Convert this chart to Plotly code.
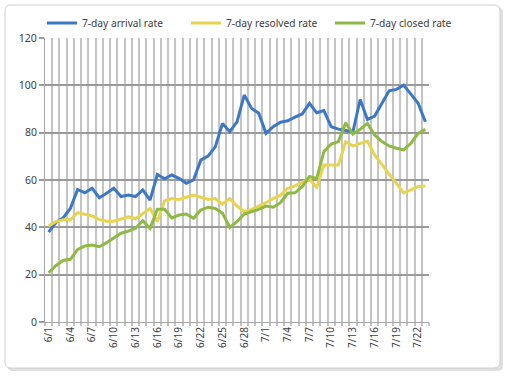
import plotly.graph_objects as go

tick_labels = ["6/1", "6/4", "6/7", "6/10", "6/13", "6/16", "6/19", "6/22", "6/25",
               "6/28", "7/1", "7/4", "7/7", "7/10", "7/13", "7/16", "7/19", "7/22"]
tick_index = [0, 3, 6, 9, 12, 15, 18, 21, 24, 27, 30, 33, 36, 39, 42, 45, 48, 51]

arrival = [38, 42, 44, 48, 56, 54.6, 56.5, 52.5, 54.4, 56.5, 53, 53.6, 53, 55.8, 51.5,
           62.3, 60.5, 62.1, 60.7, 58.6, 60, 68.4, 70.1, 74, 83.9, 80.4, 84.6, 95.9,
           90.3, 88.2, 79.7, 82.5, 84.4, 85, 86.6, 87.9, 92.4, 88.4, 89.3, 82.5, 81.5,
           81.1, 80.4, 94, 85.6, 87, 92.4, 97.7, 98.3, 100.1, 96.3, 92.4, 84.6]
resolved = [40.6, 42.4, 43.2, 43.2, 46.2, 45.4, 44.8, 43.3, 42.6, 42.6, 43.6, 44.4,
            43.6, 45.9, 48, 42.4, 51.2, 52.2, 51.8, 52.7, 53.6, 52.7, 51.8, 52.2, 49.8,
            52.2, 49, 46.6, 47.6, 49, 50.4, 52.2, 53.6, 56.5, 57.5, 59, 60.3, 56.9,
            66.3, 66.3, 66.3, 76.2, 74.4, 75.5, 76.4, 70.6, 66.3, 62.5, 58.6, 54.5,
            55.8, 57.3, 57.5]
closed = [20.8, 23.8, 26, 26.5, 30.7, 32.1, 32.5, 31.8, 33.5, 35.4, 37.5, 38.4, 39.6,
          42.8, 39.5, 47.6, 47.6, 44, 45.2, 45.6, 43.8, 47.3, 48.5, 48, 45.9, 40, 42.4,
          45.6, 46.6, 47.6, 49, 48.5, 50.4, 54.4, 54.6, 57.2, 61.5, 60.7, 72, 75.2,
          76.2, 84.2, 79.4, 81.4, 83.9, 79, 76.2, 74.4, 73.4, 72.7, 75.5, 79.7, 81.4]

days = list(range(len(arrival)))

W, H = 509, 377
L, R, T, B = 45, 429, 38, 322  # plot area in px


def px_x(p):
    return (p - L) / (R - L)


def px_y(p):
    return (B - p) / (B - T)


def rounded_rect(x0, y0, x1, y1, r):
    rx = r / (R - L)
    ry = r / (B - T)
    X0, X1 = px_x(x0), px_x(x1)
    Y0, Y1 = px_y(y0), px_y(y1)  # Y0 top, Y1 bottom
    return (f"M {X0 + rx},{Y0} L {X1 - rx},{Y0} Q {X1},{Y0} {X1},{Y0 - ry} "
            f"L {X1},{Y1 + ry} Q {X1},{Y1} {X1 - rx},{Y1} "
            f"L {X0 + rx},{Y1} Q {X0},{Y1} {X0},{Y1 + ry} "
            f"L {X0},{Y0 - ry} Q {X0},{Y0} {X0 + rx},{Y0} Z")


font_family = "Noto Sans, Open Sans, DejaVu Sans, sans-serif"

fig = go.Figure()
fig.add_trace(go.Scatter(x=days, y=arrival, mode="lines", name="7-day arrival rate",
                         line=dict(color="#3c78c5", width=3)))
fig.add_trace(go.Scatter(x=days, y=resolved, mode="lines", name="7-day resolved rate",
                         line=dict(color="#e8d44e", width=3)))
fig.add_trace(go.Scatter(x=days, y=closed, mode="lines", name="7-day closed rate",
                         line=dict(color="#8dba43", width=3)))

shapes = [
    dict(type="path", xref="paper", yref="paper", layer="below",
         path=rounded_rect(7, 7, 503, 371, 6),
         fillcolor="rgba(0,0,0,0.12)", line=dict(width=0)),
    dict(type="path", xref="paper", yref="paper", layer="below",
         path=rounded_rect(5, 5, 500, 368, 6),
         fillcolor="white", line=dict(color="#d0d0d0", width=1)),
]

fig.update_layout(
    width=W, height=H,
    margin=dict(l=L, r=W - R, t=T, b=H - B, autoexpand=False),
    paper_bgcolor="white",
    plot_bgcolor="rgba(0,0,0,0)",
    font=dict(family=font_family, size=10, color="#404040"),
    shapes=shapes,
    showlegend=True,
    legend=dict(orientation="h", x=px_x(42), y=px_y(23), xanchor="left", yanchor="middle",
                font=dict(size=10.2, color="#404040"), bgcolor="rgba(0,0,0,0)",
                itemwidth=30, tracegroupgap=0, entrywidth=99, entrywidthmode="pixels"),
    xaxis=dict(
        range=[-0.5, len(days) - 0.5], automargin=False,
        tickmode="array", tickvals=tick_index, ticktext=tick_labels,
        tickangle=-90, showgrid=False, zeroline=False,
        showline=True, linecolor="#a6a6a6", linewidth=1,
        ticks="", tickfont=dict(size=10),
        minor=dict(tick0=-0.5, dtick=1, showgrid=True, gridcolor="#c4c4c4",
                   gridwidth=2, ticks="outside", ticklen=3, tickcolor="#c4c4c4",
                   tickwidth=2),
    ),
    yaxis=dict(
        range=[0, 120], tickmode="linear", tick0=0, dtick=20, automargin=False,
        showgrid=True, gridcolor="#9a9a9a", gridwidth=2,
        zeroline=False, showline=True, linecolor="#a6a6a6", linewidth=1,
        ticks="outside", ticklen=5, tickcolor="#9a9a9a", tickwidth=2,
        tickfont=dict(size=10.5),
    ),
)

fig.write_html("out.html",
               config={"displayModeBar": False},
               post_script="document.body.style.margin='0';"
                           "document.body.style.overflow='hidden';")
